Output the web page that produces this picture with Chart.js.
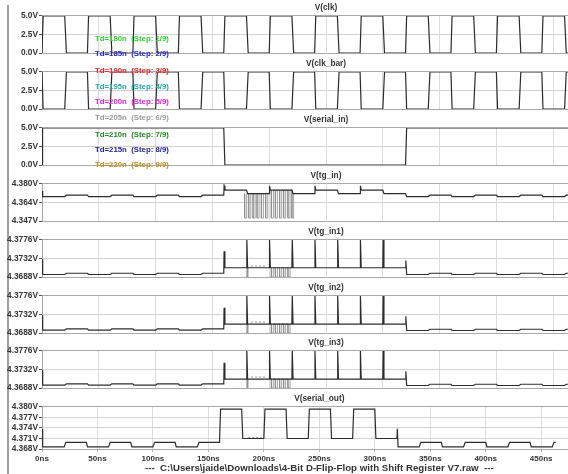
<!DOCTYPE html>
<html><head><meta charset="utf-8">
<script src="https://cdn.jsdelivr.net/npm/chart.js@4.4.1/dist/chart.umd.min.js"></script>
<style>
html,body{margin:0;padding:0;background:#fff;width:568px;height:474px;overflow:hidden;}
#wrap{position:relative;width:568px;height:474px;overflow:hidden;}
#wrap canvas{position:absolute;left:0;}
#bar{position:absolute;left:7px;top:5px;width:2px;height:469px;background:#a0a0a0;}
.st{position:absolute;left:95px;font:bold 7.8px "Liberation Sans",Arial,sans-serif;white-space:pre;line-height:9px;}
</style></head><body><div id="wrap"><div id="bar"></div></div>
<script>
// ---------- data ----------
const xTickValues = [0,50,100,150,200,250,300,350,400,450,500];
const xTickLabels = ['0ns','50ns','100ns','150ns','200ns','250ns','300ns','350ns','400ns','450ns','500ns'];
const caption = '---  C:\\Users\\jaide\\Downloads\\4-Bit D-Flip-Flop with Shift Register V7.raw  ---';
const titles = ['V(clk)','V(clk_bar)','V(serial_in)','V(tg_in)','V(tg_in1)','V(tg_in2)','V(tg_in3)','V(serial_out)'];

const yTicks5 = [0,2.5,5];
const yLabels5 = ['0.0V','2.5V','5.0V'];
const yTicksTgIn = [4.347,4.3635,4.380];
const yLabelsTgIn = ['4.347V','4.364V','4.380V'];
const yTicksTg = [4.3688,4.3732,4.3776];
const yLabelsTg = ['4.3688V','4.3732V','4.3776V'];
const yTicksOut = [4.368,4.371,4.374,4.377,4.380];
const yLabelsOut = ['4.368V','4.371V','4.374V','4.377V','4.380V'];

const stepLabels = ['Td=180n  (Step: 1/9)','Td=185n  (Step: 2/9)','Td=190n  (Step: 3/9)','Td=195n  (Step: 4/9)','Td=200n  (Step: 5/9)','Td=205n  (Step: 6/9)','Td=210n  (Step: 7/9)','Td=215n  (Step: 8/9)','Td=220n  (Step: 9/9)'];
const stepColors = ['#2fd62f','#2424c8','#e82424','#1fa8a8','#dc22dc','#9a9a9a','#1f8a1f','#23239c','#b8901c'];

const clk = [[0,0],[1,5],[20,5],[21.5,0],[40,0],[41,5],[60,5],[61.5,0],[80,0],[81,5],[100,5],[101.5,0],[120,0],[121,5],[140,5],[141.5,0],[160,0],[161,5],[180,5],[181.5,0],[200,0],[201,5],[220,5],[221.5,0],[240,0],[241,5],[260,5],[261.5,0],[280,0],[281,5],[300,5],[301.5,0],[320,0],[321,5],[340,5],[341.5,0],[360,0],[361,5],[380,5],[381.5,0],[400,0],[401,5],[420,5],[421.5,0],[440,0],[441,5],[460,5],[461.5,0],[463,0]];
const clkBar = [[0,5],[1,0],[20,0],[21.5,5],[40,5],[41,0],[60,0],[61.5,5],[80,5],[81,0],[100,0],[101.5,5],[120,5],[121,0],[140,0],[141.5,5],[160,5],[161,0],[180,0],[181.5,5],[200,5],[201,0],[220,0],[221.5,5],[240,5],[241,0],[260,0],[261.5,5],[280,5],[281,0],[300,0],[301.5,5],[320,5],[321,0],[340,0],[341.5,5],[360,5],[361,0],[380,0],[381.5,5],[400,5],[401,0],[420,0],[421.5,5],[440,5],[441,0],[460,0],[461.5,5],[463,5]];
const serialIn = [[0,0],[0.5,5],[160,5],[161,0],[320,0],[321,5],[463,5]];

const tgIn = [[0,4.3737],[0.6,4.3688],[20,4.3688],[21.5,4.3700],[40,4.3700],[41,4.3688],[60,4.3688],[61.5,4.3700],[80,4.3700],[81,4.3688],[100,4.3688],[101.5,4.3700],[120,4.3700],[121,4.3688],[140,4.3688],[141.5,4.3700],[160,4.3700],[160.3,4.3784],[161,4.3745],[180,4.3745],[181,4.3714],[200,4.3714],[200.3,4.3784],[201,4.3745],[220,4.3745],[221,4.3714],[240,4.3714],[240.3,4.3784],[241,4.3745],[260,4.3745],[261,4.3714],[280,4.3714],[280.3,4.3784],[281,4.3745],[300,4.3745],[301,4.3714],[320,4.3714],[321,4.3688],[340,4.3688],[341.5,4.3700],[360,4.3700],[361,4.3688],[380,4.3688],[381.5,4.3700],[400,4.3700],[401,4.3688],[420,4.3688],[421.5,4.3700],[440,4.3700],[441,4.3688],[460,4.3688],[461.5,4.3700],[463,4.3700]];
const tgInOther = [[178.4,4.3714],[178.4,4.3496],[180.2,4.3496],[180.2,4.3714],[182,4.3714],[182,4.3496],[183.8,4.3496],[183.8,4.3714],[185.8,4.3714],[185.8,4.3496],[187.6,4.3496],[187.6,4.3714],[189.3,4.3714],[189.3,4.3496],[191.1,4.3496],[191.1,4.3714],[193.1,4.3714],[193.1,4.3496],[194.9,4.3496],[194.9,4.3714],[196.9,4.3714],[196.9,4.3496],[198.7,4.3496],[198.7,4.3714],[200,null],[201.9,4.3745],[201.9,4.3496],[203.7,4.3496],[203.7,4.3745],[205.4,4.3745],[205.4,4.3496],[207.2,4.3496],[207.2,4.3745],[209.2,4.3745],[209.2,4.3496],[211,4.3496],[211,4.3745],[212.7,4.3745],[212.7,4.3496],[214.5,4.3496],[214.5,4.3745],[216.5,4.3745],[216.5,4.3496],[218.3,4.3496],[218.3,4.3745],[220,4.3745],[220,4.3496],[221.5,4.3496],[221.5,4.3714]];

const tgIn1 = [[0,4.3730],[0.6,4.3694],[20,4.3694],[21.5,4.3697],[40,4.3697],[41,4.3694],[60,4.3694],[61.5,4.3697],[80,4.3697],[81,4.3694],[100,4.3694],[101.5,4.3697],[120,4.3697],[121,4.3694],[140,4.3694],[141.5,4.3697],[160,4.3697],[160.3,4.3749],[161,4.3710],[180,4.3710],[180.3,4.3778],[181,4.3710],[200,4.3710],[200.3,4.3778],[201,4.3710],[220,4.3710],[220.3,4.3778],[221,4.3710],[240,4.3710],[240.3,4.3778],[241,4.3710],[260,4.3710],[260.3,4.3778],[261,4.3710],[280,4.3710],[280.3,4.3778],[281,4.3710],[300,4.3710],[300.3,4.3778],[301,4.3710],[320,4.3710],[320.3,4.3727],[321,4.3694],[340,4.3694],[341.5,4.3697],[360,4.3697],[361,4.3694],[380,4.3694],[381.5,4.3697],[400,4.3697],[401,4.3694],[420,4.3694],[421.5,4.3697],[440,4.3697],[441,4.3694],[460,4.3694],[461.5,4.3697],[463,4.3697]];
const tgIn2 = [[0,4.3730],[0.6,4.3695],[20,4.3695],[21.5,4.3698],[40,4.3698],[41,4.3695],[60,4.3695],[61.5,4.3698],[80,4.3698],[81,4.3695],[100,4.3695],[101.5,4.3698],[120,4.3698],[121,4.3695],[140,4.3695],[141.5,4.3698],[160,4.3698],[160.3,4.3748],[161,4.3709],[180,4.3709],[180.3,4.3778],[181,4.3709],[200,4.3709],[200.3,4.3778],[201,4.3709],[220,4.3709],[220.3,4.3778],[221,4.3709],[240,4.3709],[240.3,4.3778],[241,4.3709],[260,4.3709],[260.3,4.3778],[261,4.3709],[280,4.3709],[280.3,4.3778],[281,4.3709],[300,4.3709],[300.3,4.3778],[301,4.3709],[320,4.3709],[320.3,4.3728],[321,4.3694],[340,4.3694],[341.5,4.3697],[360,4.3697],[361,4.3694],[380,4.3694],[381.5,4.3697],[400,4.3697],[401,4.3694],[420,4.3694],[421.5,4.3697],[440,4.3697],[441,4.3694],[460,4.3694],[461.5,4.3697],[463,4.3697]];
const tgIn3 = [[0,4.3730],[0.6,4.3695],[20,4.3695],[21.5,4.3698],[40,4.3698],[41,4.3695],[60,4.3695],[61.5,4.3698],[80,4.3698],[81,4.3695],[100,4.3695],[101.5,4.3698],[120,4.3698],[121,4.3695],[140,4.3695],[141.5,4.3698],[160,4.3698],[160.3,4.3748],[161,4.3709],[180,4.3709],[180.3,4.3778],[181,4.3709],[200,4.3709],[200.3,4.3778],[201,4.3709],[220,4.3709],[220.3,4.3778],[221,4.3709],[240,4.3709],[240.3,4.3778],[241,4.3709],[260,4.3709],[260.3,4.3778],[261,4.3709],[280,4.3709],[280.3,4.3778],[281,4.3709],[300,4.3709],[300.3,4.3778],[301,4.3709],[320,4.3709],[320.3,4.3728],[321,4.3694],[340,4.3694],[341.5,4.3697],[360,4.3697],[361,4.3694],[380,4.3694],[381.5,4.3697],[400,4.3697],[401,4.3694],[420,4.3694],[421.5,4.3697],[440,4.3697],[441,4.3694],[460,4.3694],[461.5,4.3697],[463,4.3697]];
const tgInXOther = [[180.6,4.3710],[180.6,4.3688],[181.4,4.3688],[181.4,4.3710],[190,null],[201.9,4.3710],[201.9,4.3688],[203.6,4.3688],[203.6,4.3710],[205.4,4.3710],[205.4,4.3688],[207.2,4.3688],[207.2,4.3710],[209.2,4.3710],[209.2,4.3688],[211,4.3688],[211,4.3710],[212.7,4.3710],[212.7,4.3688],[214.5,4.3688],[214.5,4.3710],[216.5,4.3710],[216.5,4.3688],[218.3,4.3688],[218.3,4.3710],[220,4.3710]];
const tgInXDash = [[184,4.3714],[197,4.3714]];

const serialOut = [[0,4.3737],[0.6,4.3686],[20,4.3686],[21.5,4.3699],[40,4.3699],[41,4.3686],[60,4.3686],[61.5,4.3699],[80,4.3699],[81,4.3686],[100,4.3686],[101.5,4.3699],[120,4.3699],[121,4.3686],[140,4.3686],[141.5,4.3699],[160,4.3699],[161,4.3794],[180,4.3794],[181,4.3710],[200,4.3710],[201,4.3794],[220,4.3794],[221,4.3710],[240,4.3710],[241,4.3794],[260,4.3794],[261,4.3710],[280,4.3710],[281,4.3794],[300,4.3794],[301,4.3710],[320,4.3710],[320.3,4.3738],[321,4.3686],[340,4.3686],[341.5,4.3699],[360,4.3699],[361,4.3686],[380,4.3686],[381.5,4.3699],[400,4.3699],[401,4.3686],[420,4.3686],[421.5,4.3699],[440,4.3699],[441,4.3686],[460,4.3686],[461.5,4.3699],[463,4.3699]];
const serialOutDash = [[186,4.3713],[198,4.3713]];

// ---------- layout ----------
const FONT = '"Liberation Sans", Arial, sans-serif';
const panelTops = [16,72,128,184,240,296,351,407];
const plotH = 42;
const TRACE = '#2c2c2c';
const OTHER = '#8c8c8c';

function otherSet(d){ return {data:d, borderColor:OTHER, borderWidth:0.8, spanGaps:false}; }
function dashSet(d){ return {data:d, borderColor:OTHER, borderWidth:0.9, borderDash:[2,2]}; }

const panels = [
  {title:titles[0], data:clk, extra:[], ticks:yTicks5, labels:yLabels5},
  {title:titles[1], data:clkBar, extra:[], ticks:yTicks5, labels:yLabels5},
  {title:titles[2], data:serialIn, extra:[], ticks:yTicks5, labels:yLabels5},
  {title:titles[3], data:tgIn, extra:[otherSet(tgInOther)], ticks:yTicksTgIn, labels:yLabelsTgIn},
  {title:titles[4], data:tgIn1, extra:[otherSet(tgInXOther), dashSet(tgInXDash)], ticks:yTicksTg, labels:yLabelsTg},
  {title:titles[5], data:tgIn2, extra:[otherSet(tgInXOther), dashSet(tgInXDash)], ticks:yTicksTg, labels:yLabelsTg},
  {title:titles[6], data:tgIn3, extra:[otherSet(tgInXOther), dashSet(tgInXDash)], ticks:yTicksTg, labels:yLabelsTg},
  {title:titles[7], data:serialOut, extra:[dashSet(serialOutDash)], ticks:yTicksOut, labels:yLabelsOut}
];

const wrap = document.getElementById('wrap');

panels.forEach((p, i) => {
  const isLast = i === panels.length - 1;
  const cv = document.createElement('canvas');
  cv.width = 610;   // plot window is wider than the visible crop (runs to 500ns)
  cv.height = 16 + plotH + (isLast ? 25 : 1);
  cv.style.top = (panelTops[i] - 16) + 'px';
  wrap.appendChild(cv);
  const yMin = p.ticks[0], yMax = p.ticks[p.ticks.length - 1];
  new Chart(cv.getContext('2d'), {
    type: 'line',
    data: { datasets: [ {data:p.data, borderColor:TRACE, borderWidth:1.2} ].concat(p.extra) },
    options: {
      responsive:false, animation:false, events:[],
      layout:{padding:{left:0,right:0,top:0,bottom:isLast?0:1}},
      elements:{point:{radius:0}, line:{tension:0, fill:false}},
      plugins:{
        legend:{display:false}, tooltip:{enabled:false},
        title:{display:true, text:p.title, fullSize:false, color:'#333',
               font:{family:FONT, size:8.3, weight:'bold'}, padding:{top:3,bottom:3}}
      },
      scales:{
        x:{type:'linear', min:0, max:500,
           afterBuildTicks:a=>{ a.ticks = xTickValues.map(v=>({value:v})); },
           afterFit:a=>{ a.height = isLast ? 25 : 0; },
           grid:{color:'#dcdcdc', drawTicks:isLast, tickLength:3, tickColor:'#b0b0b0'},
           border:{display:false},
           ticks:{display:isLast, autoSkip:false, maxRotation:0, padding:2, color:'#333',
                  font:{family:FONT, size:8, weight:'bold'}, callback:(v,idx)=>xTickLabels[idx]},
           title:{display:isLast, text:caption, color:'#333',
                  font:{family:FONT, size:9.7, weight:'bold'}, padding:{top:0,bottom:0}}
        },
        y:{type:'linear', min:yMin, max:yMax,
           afterBuildTicks:a=>{ a.ticks = p.ticks.map(v=>({value:v})); },
           afterFit:a=>{ a.width = 42; },
           grid:{color:c=>(c.tick && (c.tick.value===yMin || c.tick.value===yMax)) ? '#a8a8a8' : '#d2d2d2',
                 tickColor:'#555', tickLength:3},
           border:{display:true, color:'#a8a8a8'},
           ticks:{autoSkip:false, padding:1, color:'#333',
                  font:{family:FONT, size:8.3, weight:'bold'}, callback:(v,idx)=>p.labels[idx]}
        }
      }
    }
  });
});

// step legend (text overlay)
const stepY = [38.3,53.5,70.7,86.7,101.3,117.3,134.3,149.3,164.3];
stepLabels.forEach((t, k) => {
  const s = document.createElement('div');
  s.className = 'st';
  s.textContent = t;
  s.style.color = stepColors[k];
  s.style.top = (stepY[k] - 4.5) + 'px';
  wrap.appendChild(s);
});
</script>
</body></html>
